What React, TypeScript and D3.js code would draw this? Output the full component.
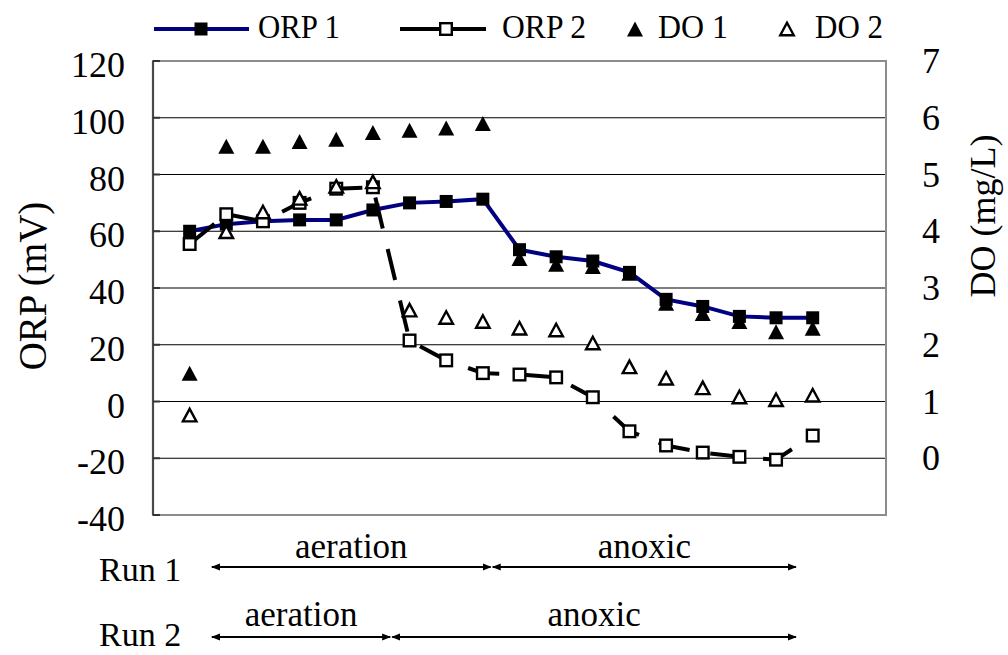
import * as d3 from "d3";

// sample number along the cycle
const samples = [1, 2, 3, 4, 5, 6, 7, 8, 9, 10, 11, 12, 13, 14, 15, 16, 17, 18];

// ORP (mV), left axis
const orp1 = [60, 62.5, 63.5, 64, 64, 67.5, 70, 70.5, 71.3, 53.5, 51, 49.5, 45.5, 36, 33.5, 30, 29.5, 29.5];
const orp2 = [55.5, 66, 63.5, 70, 75, 75.5, 21.5, 14.5, 10, 9.5, 8.5, 1.5, -10.5, -15.5, -18, -19.5, -20.5, -12];

// DO (mg/L), right axis
const do1 = [1.5, 5.5, 5.5, 5.58, 5.62, 5.74, 5.78, 5.82, 5.9, 3.52, 3.42, 3.38, 3.26, 2.73, 2.55, 2.41, 2.23, 2.29];
const do2 = [0.76, 3.99, 4.34, 4.58, 4.79, 4.87, 2.61, 2.48, 2.41, 2.29, 2.26, 2.03, 1.61, 1.41, 1.24, 1.08, 1.03, 1.11];

const orpTicks = [-40, -20, 0, 20, 40, 60, 80, 100, 120];
const doTicks = [0, 1, 2, 3, 4, 5, 6, 7];

// phase annotations below the chart (in sample units)
const runNames = ["Run 1", "Run 2"];
const phaseNames = ["aeration", "anoxic"];
const run1Bounds = [1.58, 9.24, 17.57];
const run2Bounds = [1.58, 6.5, 17.57];

const legendNames = ["ORP 1", "ORP 2", "DO 1", "DO 2"];

const tf = { fontFamily: "Liberation Serif" };

const plot = { left: 153, right: 886, top: 61, bottom: 515 };

const x = d3.scaleLinear().domain([0, 20]).range([plot.left, plot.right]);
const yL = d3.scaleLinear().domain([-40, 120]).range([plot.bottom, plot.top]);
const yR = d3.scaleLinear().domain([-1, 7]).range([plot.bottom, plot.top]);

const tri = (cx: number, cy: number, w: number, h: number) =>
  `M${cx},${cy - h / 2}L${cx + w / 2},${cy + h / 2}L${cx - w / 2},${cy + h / 2}Z`;

const FilledSquare = ({ cx, cy }: { cx: number; cy: number }) => (
  <rect x={cx - 6.5} y={cy - 6.5} width={13} height={13} fill="#000" />
);
const OpenSquare = ({ cx, cy }: { cx: number; cy: number }) => (
  <rect x={cx - 5.8} y={cy - 5.8} width={11.6} height={11.6} fill="#fff" stroke="#000" strokeWidth={2.4} />
);
const FilledTri = ({ cx, cy }: { cx: number; cy: number }) => <path d={tri(cx, cy, 16, 15)} fill="#000" />;
const OpenTri = ({ cx, cy }: { cx: number; cy: number }) => (
  <path d={tri(cx, cy, 13.5, 12.5)} fill="#fff" stroke="#000" strokeWidth={2.4} strokeLinejoin="miter" />
);

const PhaseRow = ({ bounds, y, textY, label, labelY }: { bounds: number[]; y: number; textY: number; label: string; labelY: number }) => (
  <g>
    <text x={99} y={labelY} fontSize={34} style={tf}>
      {label}
    </text>
    {phaseNames.map((p, i) => {
      const x0 = x(bounds[i]);
      const x1 = x(bounds[i + 1]);
      return (
        <g key={p}>
          <line x1={x0 + 1} x2={x1 - 1} y1={y} y2={y} stroke="#000" strokeWidth={2} markerStart="url(#arr)" markerEnd="url(#arr)" />
          <text x={(x0 + x1) / 2} y={textY} fontSize={35} textAnchor="middle" style={tf}>
            {p}
          </text>
        </g>
      );
    })}
  </g>
);

export default function App() {
  const lineL = d3
    .line<number>()
    .x((_, i) => x(samples[i]))
    .y((d) => yL(d));

  const legendY = 29;
  const legendTextY = 38;

  return (
    <svg width={1008} height={655} style={{ position: "absolute", left: 0, top: 0, background: "#fff" }}>
      <defs>
        <marker id="arr" viewBox="0 0 10 10" refX="9" refY="5" markerWidth="4.5" markerHeight="4.5" orient="auto-start-reverse" markerUnits="strokeWidth">
          <path d="M0,1L10,5L0,9Z" fill="#000" />
        </marker>
      </defs>

      {/* gridlines */}
      {orpTicks.slice(1, -1).map((t) => (
        <line key={t} x1={plot.left} x2={plot.right + 1} y1={yL(t)} y2={yL(t)} stroke="#000" strokeWidth={1.2} />
      ))}
      {/* frame */}
      <rect x={plot.left} y={plot.top} width={plot.right - plot.left} height={plot.bottom - plot.top} fill="none" stroke="#8c8c8c" strokeWidth={2} />
      <line x1={plot.left} x2={plot.left} y1={plot.top} y2={plot.bottom} stroke="#4a4a4a" strokeWidth={2.2} />
      {orpTicks.map((t) => (
        <line key={t} x1={plot.left} x2={plot.left + 7} y1={yL(t)} y2={yL(t)} stroke="#333" strokeWidth={2} />
      ))}

      {/* left ticks */}
      {orpTicks.map((t) => (
        <text key={t} x={125} y={yL(t) + 4} fontSize={36} textAnchor="end" dominantBaseline="central" style={tf}>
          {t}
        </text>
      ))}
      {/* right ticks */}
      {doTicks.map((t) => (
        <text key={t} x={922} y={yR(t)} fontSize={36} textAnchor="start" dominantBaseline="central" style={tf}>
          {t}
        </text>
      ))}

      <text transform="translate(32,286) rotate(-90)" fontSize={39} textAnchor="middle" dominantBaseline="central" style={tf}>
        ORP (mV)
      </text>
      <text transform="translate(983,216) rotate(-90)" fontSize={36} textAnchor="middle" dominantBaseline="central" style={tf}>
        DO (mg/L)
      </text>

      {/* ORP 1 */}
      <path d={lineL(orp1) ?? ""} fill="none" stroke="#000080" strokeWidth={4} />
      {orp1.map((v, i) => (
        <FilledSquare key={i} cx={x(samples[i])} cy={yL(v)} />
      ))}

      {/* ORP 2 */}
      <path d={lineL(orp2) ?? ""} fill="none" stroke="#000" strokeWidth={4} strokeDasharray="32 21" />
      {orp2.map((v, i) => (
        <OpenSquare key={i} cx={x(samples[i])} cy={yL(v)} />
      ))}

      {/* DO 1 */}
      {do1.map((v, i) => (
        <FilledTri key={i} cx={x(samples[i])} cy={yR(v)} />
      ))}
      {/* DO 2 */}
      {do2.map((v, i) => (
        <OpenTri key={i} cx={x(samples[i])} cy={yR(v)} />
      ))}

      {/* legend */}
      <g>
        <line x1={154} x2={249} y1={legendY} y2={legendY} stroke="#000080" strokeWidth={4} />
        <FilledSquare cx={201} cy={legendY} />
        <text x={258} y={legendTextY} fontSize={34} textLength={82} lengthAdjust="spacingAndGlyphs" style={tf}>
          {legendNames[0]}
        </text>
        <line x1={400} x2={486} y1={legendY} y2={legendY} stroke="#000" strokeWidth={4} />
        <OpenSquare cx={446} cy={legendY} />
        <text x={502} y={legendTextY} fontSize={34} textLength={84} lengthAdjust="spacingAndGlyphs" style={tf}>
          {legendNames[1]}
        </text>
        <FilledTri cx={635} cy={legendY} />
        <text x={658} y={legendTextY} fontSize={34} textLength={70} lengthAdjust="spacingAndGlyphs" style={tf}>
          {legendNames[2]}
        </text>
        <OpenTri cx={787} cy={legendY} />
        <text x={815} y={legendTextY} fontSize={34} textLength={68} lengthAdjust="spacingAndGlyphs" style={tf}>
          {legendNames[3]}
        </text>
      </g>

      {/* phase annotations */}
      <PhaseRow bounds={run1Bounds} y={567} textY={558} label={runNames[0]} labelY={581} />
      <PhaseRow bounds={run2Bounds} y={637} textY={626} label={runNames[1]} labelY={646} />
    </svg>
  );
}
